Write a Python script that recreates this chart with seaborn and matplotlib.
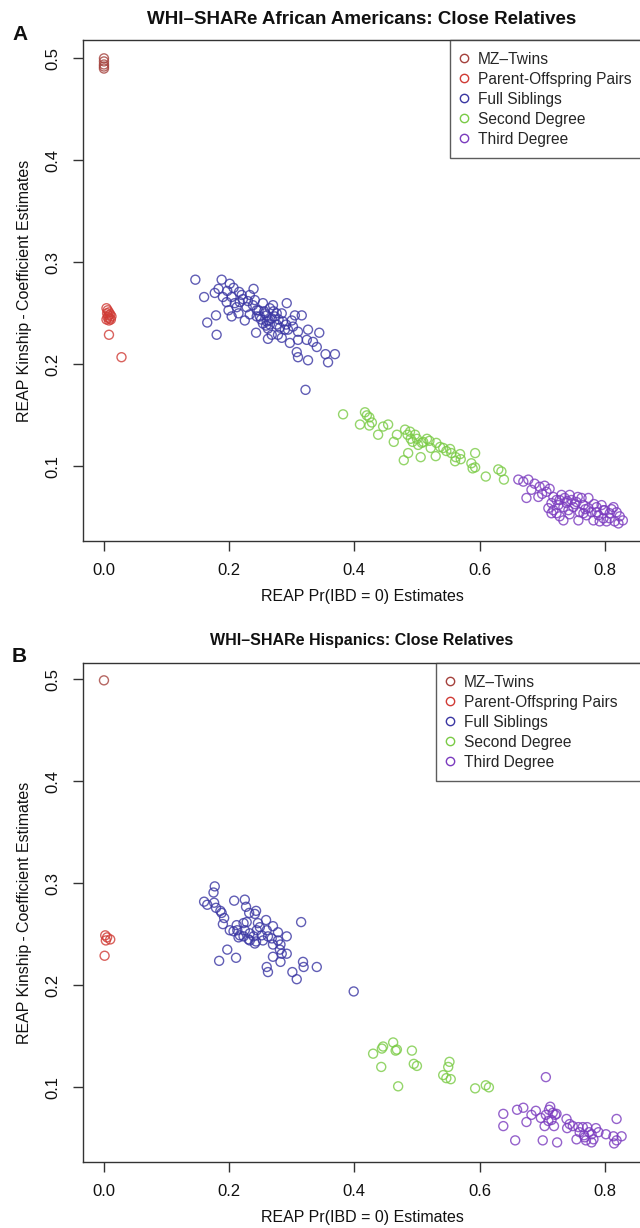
"""
REAP kinship coefficient vs Pr(IBD = 0), WHI-SHARe close relatives.
Two stacked scatter panels (African Americans / Hispanics).
"""

import pandas as pd
import seaborn as sns
import matplotlib.pyplot as plt
from matplotlib.lines import Line2D

# ---- data (x = Pr(IBD=0), y = kinship) ----
categories = ['MZ-Twins', 'Parent-Offspring Pairs', 'Full Siblings',
              'Second Degree', 'Third Degree']
legend_labels = ['MZ\u2013Twins', 'Parent-Offspring Pairs', 'Full Siblings',
                 'Second Degree', 'Third Degree']
colors = ['#a4413c', '#d03b35', '#3a36a3', '#7acb45', '#7b3bbf']

# Panel A: African Americans
aa_mz_x = [0.000, 0.000, 0.000, 0.000, 0.000]
aa_mz_y = [0.500, 0.497, 0.494, 0.492, 0.490]

aa_po_x = [0.004, 0.006, 0.008, 0.005, 0.010, 0.007, 0.012, 0.006, 0.009,
           0.004, 0.011, 0.008, 0.008, 0.028]
aa_po_y = [0.255, 0.253, 0.251, 0.250, 0.249, 0.248, 0.247, 0.246, 0.245,
           0.244, 0.244, 0.243, 0.229, 0.207]

aa_fs_x = [0.146, 0.160, 0.165, 0.180, 0.179, 0.188, 0.177, 0.183, 0.190,
           0.201, 0.197, 0.204, 0.209, 0.199, 0.204, 0.216, 0.217, 0.215,
           0.225, 0.228, 0.233, 0.239, 0.241, 0.244, 0.249, 0.243, 0.254,
           0.257, 0.260, 0.262, 0.265, 0.270, 0.273, 0.276, 0.278, 0.262,
           0.284, 0.286, 0.292, 0.294, 0.300, 0.297, 0.305, 0.310, 0.316,
           0.310, 0.308, 0.310, 0.326, 0.324, 0.326, 0.334, 0.340, 0.344,
           0.354, 0.358, 0.369, 0.322, 0.254, 0.265, 0.268, 0.260, 0.276,
           0.281, 0.244, 0.233, 0.212, 0.207, 0.196, 0.222, 0.268, 0.284,
           0.289, 0.251, 0.256, 0.263, 0.271, 0.247, 0.238, 0.259, 0.279,
           0.220, 0.230, 0.291, 0.302]
aa_fs_y = [0.283, 0.266, 0.241, 0.229, 0.248, 0.283, 0.270, 0.274, 0.266,
           0.279, 0.272, 0.266, 0.260, 0.253, 0.247, 0.271, 0.261, 0.250,
           0.243, 0.256, 0.268, 0.274, 0.263, 0.253, 0.247, 0.231, 0.260,
           0.250, 0.242, 0.235, 0.255, 0.258, 0.247, 0.239, 0.229, 0.225,
           0.250, 0.242, 0.260, 0.234, 0.243, 0.221, 0.248, 0.232, 0.248,
           0.224, 0.212, 0.207, 0.234, 0.224, 0.204, 0.222, 0.217, 0.231,
           0.210, 0.202, 0.210, 0.175, 0.240, 0.239, 0.245, 0.248, 0.250,
           0.236, 0.247, 0.249, 0.256, 0.275, 0.261, 0.264, 0.229, 0.226,
           0.234, 0.244, 0.252, 0.243, 0.252, 0.253, 0.258, 0.238, 0.244,
           0.268, 0.262, 0.239, 0.237]

aa_sd_x = [0.382, 0.417, 0.420, 0.424, 0.428, 0.409, 0.424, 0.438, 0.446,
           0.454, 0.463, 0.468, 0.481, 0.479, 0.486, 0.485, 0.489, 0.493,
           0.497, 0.500, 0.502, 0.506, 0.510, 0.516, 0.520, 0.522, 0.530,
           0.531, 0.537, 0.542, 0.547, 0.553, 0.555, 0.561, 0.562, 0.569,
           0.570, 0.587, 0.593, 0.589, 0.593, 0.610, 0.630, 0.635, 0.639,
           0.508, 0.490]
aa_sd_y = [0.151, 0.153, 0.150, 0.148, 0.143, 0.141, 0.140, 0.131, 0.139,
           0.141, 0.124, 0.131, 0.136, 0.106, 0.113, 0.131, 0.134, 0.124,
           0.131, 0.127, 0.121, 0.109, 0.124, 0.127, 0.125, 0.118, 0.110,
           0.123, 0.119, 0.118, 0.115, 0.117, 0.113, 0.105, 0.109, 0.112,
           0.107, 0.103, 0.113, 0.098, 0.099, 0.090, 0.097, 0.095, 0.087,
           0.123, 0.127]

aa_td_x = [0.662, 0.670, 0.678, 0.675, 0.683, 0.688, 0.694, 0.696, 0.704,
           0.707, 0.712, 0.710, 0.715, 0.718, 0.723, 0.726, 0.728, 0.731,
           0.734, 0.736, 0.739, 0.742, 0.744, 0.747, 0.750, 0.755, 0.758,
           0.760, 0.763, 0.766, 0.771, 0.774, 0.774, 0.779, 0.782, 0.787,
           0.790, 0.795, 0.798, 0.800, 0.803, 0.808, 0.814, 0.816, 0.819,
           0.824, 0.829, 0.822, 0.734, 0.728, 0.766, 0.787, 0.798, 0.808,
           0.744, 0.792, 0.723, 0.718, 0.752, 0.769, 0.783, 0.740, 0.757,
           0.811, 0.700, 0.715]
aa_td_y = [0.087, 0.085, 0.087, 0.069, 0.077, 0.083, 0.070, 0.080, 0.081,
           0.075, 0.078, 0.059, 0.054, 0.070, 0.067, 0.062, 0.051, 0.072,
           0.047, 0.069, 0.064, 0.057, 0.072, 0.067, 0.060, 0.065, 0.047,
           0.055, 0.069, 0.062, 0.052, 0.059, 0.069, 0.055, 0.047, 0.060,
           0.052, 0.062, 0.049, 0.057, 0.046, 0.054, 0.060, 0.046, 0.055,
           0.051, 0.047, 0.044, 0.060, 0.067, 0.054, 0.055, 0.057, 0.049,
           0.053, 0.046, 0.054, 0.057, 0.063, 0.058, 0.063, 0.066, 0.070,
           0.058, 0.073, 0.064]

# Panel B: Hispanics
hi_mz_x = [0.000]
hi_mz_y = [0.499]

hi_po_x = [0.002, 0.005, 0.003, 0.010, 0.001]
hi_po_y = [0.249, 0.247, 0.244, 0.245, 0.229]

hi_fs_x = [0.177, 0.175, 0.160, 0.165, 0.176, 0.179, 0.186, 0.188, 0.192,
           0.190, 0.208, 0.225, 0.227, 0.232, 0.243, 0.241, 0.228, 0.223,
           0.212, 0.201, 0.207, 0.213, 0.217, 0.215, 0.223, 0.225, 0.231,
           0.233, 0.239, 0.241, 0.243, 0.246, 0.249, 0.252, 0.254, 0.259,
           0.260, 0.262, 0.268, 0.270, 0.270, 0.278, 0.278, 0.282, 0.281,
           0.284, 0.270, 0.282, 0.292, 0.292, 0.197, 0.184, 0.211, 0.260,
           0.262, 0.301, 0.308, 0.318, 0.319, 0.340, 0.315, 0.399, 0.233,
           0.244]
hi_fs_y = [0.297, 0.291, 0.282, 0.279, 0.281, 0.276, 0.273, 0.271, 0.266,
           0.260, 0.283, 0.284, 0.277, 0.271, 0.273, 0.270, 0.262, 0.261,
           0.259, 0.254, 0.253, 0.254, 0.249, 0.247, 0.248, 0.254, 0.245,
           0.251, 0.248, 0.241, 0.243, 0.261, 0.257, 0.249, 0.244, 0.264,
           0.254, 0.248, 0.246, 0.258, 0.240, 0.252, 0.244, 0.240, 0.235,
           0.231, 0.228, 0.223, 0.248, 0.231, 0.235, 0.224, 0.227, 0.218,
           0.213, 0.213, 0.206, 0.223, 0.218, 0.218, 0.262, 0.194, 0.244,
           0.254]

hi_sd_x = [0.430, 0.444, 0.446, 0.462, 0.468, 0.466, 0.443, 0.470, 0.492,
           0.495, 0.500, 0.552, 0.550, 0.542, 0.547, 0.554, 0.593, 0.610,
           0.615]
hi_sd_y = [0.133, 0.138, 0.140, 0.144, 0.137, 0.136, 0.120, 0.101, 0.136,
           0.123, 0.121, 0.125, 0.120, 0.112, 0.109, 0.108, 0.099, 0.102,
           0.100]

hi_td_x = [0.638, 0.638, 0.657, 0.660, 0.670, 0.675, 0.683, 0.690, 0.698,
           0.701, 0.704, 0.706, 0.711, 0.713, 0.717, 0.715, 0.721, 0.723,
           0.719, 0.724, 0.710, 0.739, 0.740, 0.744, 0.749, 0.755, 0.758,
           0.760, 0.765, 0.767, 0.770, 0.772, 0.775, 0.779, 0.782, 0.786,
           0.790, 0.802, 0.814, 0.815, 0.819, 0.827, 0.819, 0.768, 0.779,
           0.706]
hi_td_y = [0.074, 0.062, 0.048, 0.078, 0.080, 0.066, 0.073, 0.077, 0.070,
           0.048, 0.062, 0.073, 0.078, 0.081, 0.075, 0.068, 0.073, 0.074,
           0.062, 0.046, 0.067, 0.069, 0.060, 0.064, 0.062, 0.049, 0.061,
           0.056, 0.061, 0.053, 0.048, 0.061, 0.056, 0.054, 0.049, 0.060,
           0.056, 0.054, 0.052, 0.045, 0.048, 0.052, 0.069, 0.051, 0.046,
           0.110]

xticks = [0.0, 0.2, 0.4, 0.6, 0.8]
yticks = [0.1, 0.2, 0.3, 0.4, 0.5]


def panel_frame(series):
    frames = []
    for cat, (xs, ys) in zip(categories, series):
        frames.append(pd.DataFrame({'pibd0': xs, 'kinship': ys, 'relation': cat}))
    return pd.concat(frames, ignore_index=True)


df_aa = panel_frame([(aa_mz_x, aa_mz_y), (aa_po_x, aa_po_y), (aa_fs_x, aa_fs_y),
                     (aa_sd_x, aa_sd_y), (aa_td_x, aa_td_y)])
df_hi = panel_frame([(hi_mz_x, hi_mz_y), (hi_po_x, hi_po_y), (hi_fs_x, hi_fs_y),
                     (hi_sd_x, hi_sd_y), (hi_td_x, hi_td_y)])

sns.set_style('ticks')
plt.rcParams['font.family'] = ['Liberation Sans', 'DejaVu Sans']

W, H = 640, 1228
fig = plt.figure(figsize=(W / 100, H / 100), dpi=100)


def px_axes(left, top, right, bottom):
    return fig.add_axes([left / W, 1 - bottom / H, (right - left) / W, (bottom - top) / H])


def draw_panel(ax, df, ylim, title, title_size, letter, title_y, letter_y, legend_left):
    sns.scatterplot(data=df, x='pibd0', y='kinship', hue='relation',
                    hue_order=categories, palette=colors, s=42,
                    linewidth=1.0, legend=False, ax=ax)
    # R-style open circles
    for coll in ax.collections:
        fc = coll.get_facecolors()
        coll.set_edgecolors(fc)
        coll.set_facecolors('none')
        coll.set_alpha(0.8)

    ax.set_xlim(-0.0335, 0.858)
    ax.set_ylim(*ylim)
    ax.set_xticks(xticks)
    ax.set_xticklabels([f'{t:.1f}' for t in xticks])
    ax.set_yticks(yticks)
    ax.set_yticklabels([f'{t:.1f}' for t in yticks], rotation=90, va='center')
    ax.tick_params(axis='both', direction='out', length=7, width=1,
                   color='#333333', labelsize=12, pad=9, labelcolor='#111111')
    for sp in ax.spines.values():
        sp.set_color('#333333')
        sp.set_linewidth(1.0)
        sp.set_visible(True)
    ax.set_xlabel('REAP Pr(IBD = 0) Estimates', fontsize=11.5, labelpad=8, color='#111111')
    ax.set_ylabel('REAP Kinship\u2009-\u2009Coefficient Estimates', fontsize=11.5,
                  labelpad=10, color='#111111')

    handles = [Line2D([], [], linestyle='none', marker='o', markersize=6,
                      markerfacecolor='none', markeredgecolor=c, markeredgewidth=1.0)
               for c in colors]
    left_frac = (legend_left - 83) / (641 - 83)
    leg = ax.legend(handles, legend_labels, loc='upper left',
                    bbox_to_anchor=(left_frac, 0, 1 - left_frac, 1), mode='expand',
                    borderaxespad=0, frameon=True, fancybox=False, fontsize=11.2,
                    handletextpad=0.75, handlelength=0.3, labelspacing=0.32,
                    borderpad=0.75)
    leg.get_frame().set_edgecolor('#333333')
    leg.get_frame().set_linewidth(1.0)

    fig.text(362 / W, 1 - title_y / H, title, ha='center', va='center',
             fontsize=title_size, fontweight='bold', color='#111111')
    fig.text(12 / W, 1 - letter_y / H, letter, ha='left', va='center',
             fontsize=15, fontweight='bold', color='#111111')


ax_a = px_axes(83, 40, 641, 541)
draw_panel(ax_a, df_aa, (0.0268, 0.518), 'WHI\u2013SHARe African Americans: Close Relatives',
           13.5, 'A', 19, 35, 450)

ax_b = px_axes(83, 663, 641, 1162)
draw_panel(ax_b, df_hi, (0.0268, 0.516), 'WHI\u2013SHARe Hispanics: Close Relatives',
           11.5, 'B', 641, 656, 436)

fig.savefig('out.png', dpi=100)
